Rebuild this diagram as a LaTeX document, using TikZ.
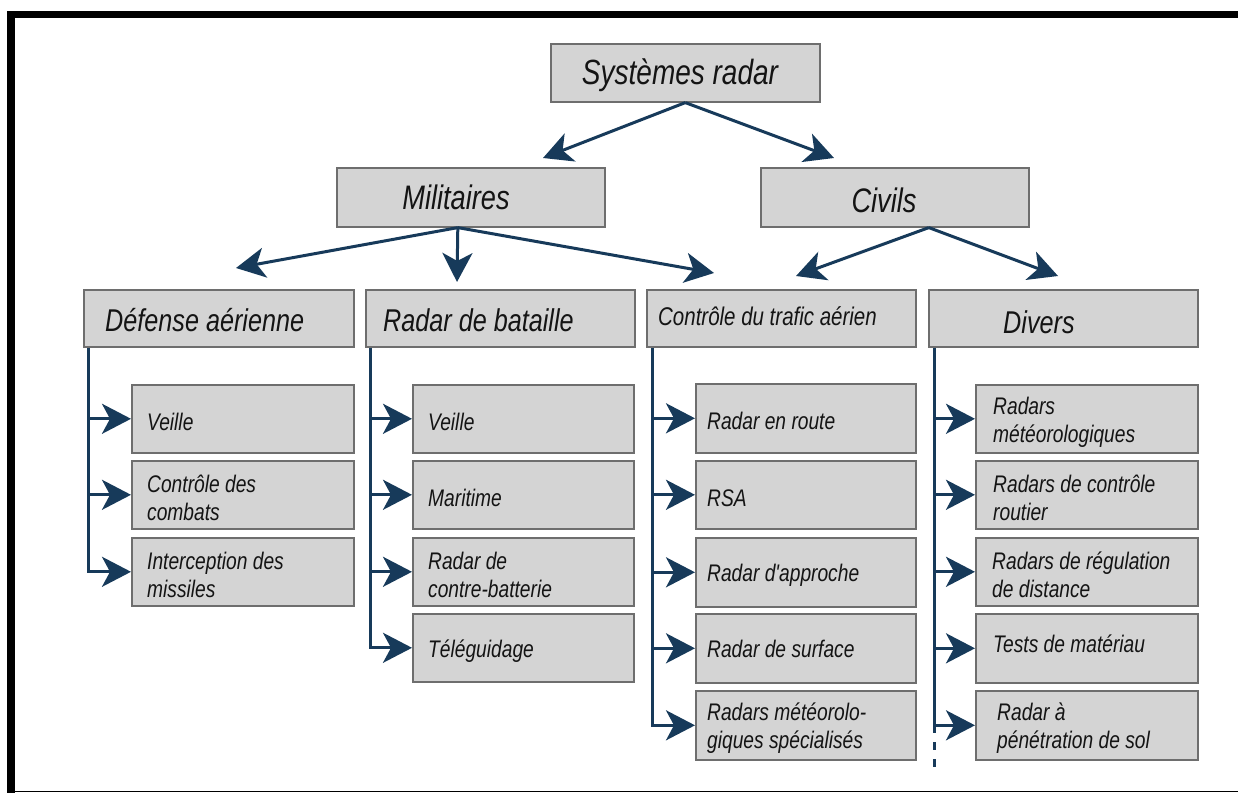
\documentclass[tikz,border=0pt]{standalone}
\usepackage{fontspec}
\newfontfamily\diagfont{Liberation Sans}[FakeStretch=0.8]
\usetikzlibrary{arrows.meta,shadows}
\definecolor{boxfill}{HTML}{D4D4D4}
\definecolor{boxedge}{HTML}{6E6E6E}
\definecolor{linkblue}{HTML}{173A5A}
\definecolor{inkdark}{HTML}{141414}

\begin{document}
\begin{tikzpicture}[x=1pt,y=-1pt,
  box/.style 2 args={rectangle, fill=boxfill, draw=boxedge, line width=1.6pt,
    anchor=north west, inner sep=0pt, minimum width=#1pt, minimum height=#2pt,
    general shadow={fill=black!45, shadow yshift=-1.6pt}},
  txt/.style={inner sep=0pt, text=inkdark, font=\diagfont\itshape},
  title/.style={txt, font=\diagfont\itshape\fontsize{35}{40}\selectfont},
  head1/.style={txt, font=\diagfont\itshape\fontsize{34}{40}\selectfont},
  head2/.style={txt, font=\diagfont\itshape\fontsize{31.5}{36}\selectfont},
  head2small/.style={txt, font=\diagfont\itshape\fontsize{25.6}{30}\selectfont},
  leaf/.style={txt, font=\diagfont\itshape\fontsize{24}{28}\selectfont, align=left, anchor=west},
  link/.style={draw=linkblue, line width=3pt,
    arrows={-Stealth[length=29pt,width=30pt,inset=8pt]}},
  trunkdash/.style={draw=linkblue, line width=3pt, dash pattern=on 8pt off 9pt}
]
\useasboundingbox (0,0) rectangle (1238,793);

% page frame
\fill[black] (7,11) rectangle (15,793);
\fill[black] (7,11) rectangle (1238,18);
\draw[black, line width=1.5pt] (15,791.5) -- (1238,791.5);

% root
\node[box={269}{58}] (sys) at (550,43) {};
\node[title, anchor=base] (syst) at (680,84) {Systèmes radar};

% first level
\node[box={268}{59}] (mil) at (336,167) {};
\node[head1, anchor=base] (milt) at (456,209) {Militaires};
\node[box={268}{59}] (civ) at (760,167) {};
\node[head1, anchor=base] (civt) at (884,212) {Civils};

% second level
\node[box={270}{57}] (def) at (83,289) {};
\node[head2, anchor=base west] (deft) at (105,331) {Défense aérienne};
\node[box={269}{57}] (bat) at (365,289) {};
\node[head2, anchor=base west] (batt) at (383,331) {Radar de bataille};
\node[box={269}{57}] (atc) at (646,289) {};
\node[head2small, anchor=base west] (atct) at (658,325) {Contrôle du trafic aérien};
\node[box={269}{57}] (div) at (928,289) {};
\node[head2, anchor=base west] (divt) at (1003,333) {Divers};

% Défense aérienne
\node[box={222}{68}] (d1) at (131,384) {};
\node[leaf] (d1t) at ([xshift=16pt,yshift=-3pt]d1.west) {Veille};
\node[box={222}{68}] (d2) at (131,460) {};
\node[leaf] (d2t) at ([xshift=16pt,yshift=-3pt]d2.west) {Contrôle des\\combats};
\node[box={222}{68}] (d3) at (131,537) {};
\node[leaf] (d3t) at ([xshift=16pt,yshift=-3pt]d3.west) {Interception des\\missiles};

% Radar de bataille
\node[box={221}{68}] (b1) at (412,384) {};
\node[leaf] (b1t) at ([xshift=16pt,yshift=-3pt]b1.west) {Veille};
\node[box={221}{68}] (b2) at (412,460) {};
\node[leaf] (b2t) at ([xshift=16pt,yshift=-3pt]b2.west) {Maritime};
\node[box={221}{68}] (b3) at (412,537) {};
\node[leaf] (b3t) at ([xshift=16pt,yshift=-3pt]b3.west) {Radar de\\contre-batterie};
\node[box={221}{68}] (b4) at (412,613) {};
\node[leaf] (b4t) at ([xshift=16pt,yshift=-3pt]b4.west) {Téléguidage};

% Contrôle du trafic aérien
\node[box={220}{69}] (a1) at (695,383) {};
\node[leaf] (a1t) at ([xshift=12pt,yshift=-3pt]a1.west) {Radar en route};
\node[box={220}{68}] (a2) at (695,460) {};
\node[leaf] (a2t) at ([xshift=12pt,yshift=-3pt]a2.west) {RSA};
\node[box={220}{69}] (a3) at (695,537) {};
\node[leaf] (a3t) at ([xshift=12pt,yshift=-3pt]a3.west) {Radar d'approche};
\node[box={220}{69}] (a4) at (695,613) {};
\node[leaf] (a4t) at ([xshift=12pt,yshift=-1pt]a4.west) {Radar de surface};
\node[box={220}{69}] (a5) at (695,690) {};
\node[leaf] (a5t) at ([xshift=12pt,yshift=-3pt]a5.west) {Radars météorolo-\\giques spécialisés};

% Divers
\node[box={222}{68}] (v1) at (975,384) {};
\node[leaf] (v1t) at ([xshift=18pt,yshift=-3pt]v1.west) {Radars\\météorologiques};
\node[box={222}{68}] (v2) at (975,460) {};
\node[leaf] (v2t) at ([xshift=18pt,yshift=-3pt]v2.west) {Radars de contrôle\\routier};
\node[box={222}{68}] (v3) at (975,537) {};
\node[leaf] (v3t) at ([xshift=17pt,yshift=-3pt]v3.west) {Radars de régulation\\de distance};
\node[box={222}{69}] (v4) at (975,613) {};
\node[leaf] (v4t) at ([xshift=18pt,yshift=5pt]v4.west) {Tests de matériau};
\node[box={222}{69}] (v5) at (975,690) {};
\node[leaf] (v5t) at ([xshift=22pt,yshift=-3pt]v5.west) {Radar à\\pénétration de sol};

% arrow end points between the levels
\coordinate (milin) at (543,158);
\coordinate (civin) at (834,158);
\coordinate (defin) at (236,268);
\coordinate (batin) at (457,282);
\coordinate (atcin) at (714,273);
\coordinate (atcin2) at (796,276);
\coordinate (divin) at (1058,276);

\draw[link] (sys.south) -- (milin);
\draw[link] (sys.south) -- (civin);
\draw[link] ([xshift=-13pt]mil.south) -- (defin);
\draw[link] ([xshift=-13pt]mil.south) -- (batin);
\draw[link] ([xshift=-13pt]mil.south) -- (atcin);
\draw[link] ([xshift=34pt]civ.south) -- (atcin2);
\draw[link] ([xshift=34pt]civ.south) -- (divin);

% vertical trunks feeding the sub-boxes
\coordinate (deftr) at ([xshift=5pt]def.south west);
\coordinate (battr) at ([xshift=5pt]bat.south west);
\coordinate (atctr) at ([xshift=6pt]atc.south west);
\coordinate (divtr) at ([xshift=6pt]div.south west);
\coordinate (divend) at (934,772);

\draw[link] (deftr) |- (d3.west);
\draw[link] (deftr |- d1.west) -- (d1.west);
\draw[link] (deftr |- d2.west) -- (d2.west);

\draw[link] (battr) |- (b4.west);
\draw[link] (battr |- b1.west) -- (b1.west);
\draw[link] (battr |- b2.west) -- (b2.west);
\draw[link] (battr |- b3.west) -- (b3.west);

\draw[link] (atctr) |- (a5.west);
\draw[link] (atctr |- a1.west) -- (a1.west);
\draw[link] (atctr |- a2.west) -- (a2.west);
\draw[link] (atctr |- a3.west) -- (a3.west);
\draw[link] (atctr |- a4.west) -- (a4.west);

\draw[link] (divtr) |- (v5.west);
\draw[link] (divtr |- v1.west) -- (v1.west);
\draw[link] (divtr |- v2.west) -- (v2.west);
\draw[link] (divtr |- v3.west) -- (v3.west);
\draw[link] (divtr |- v4.west) -- (v4.west);
\draw[trunkdash] (divtr |- v5.west) -- (divend);

\end{tikzpicture}
\end{document}
